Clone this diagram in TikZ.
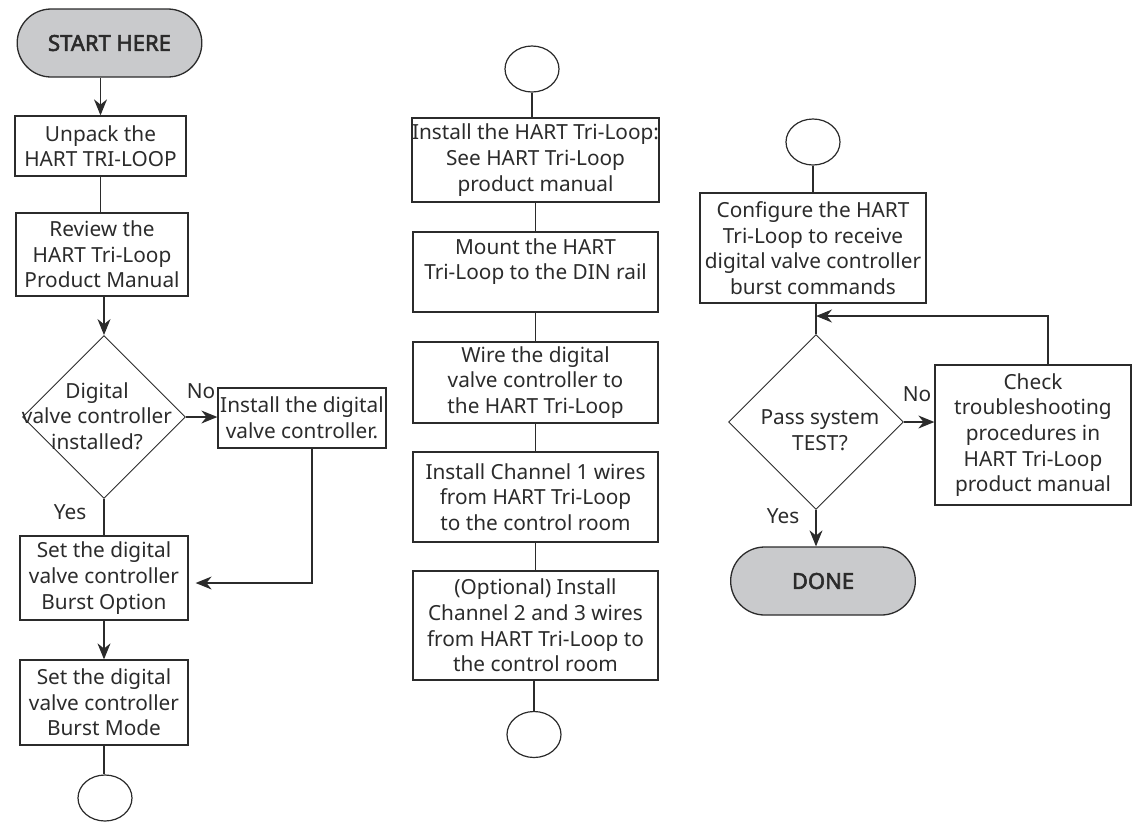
\documentclass[tikz,border=0pt]{standalone}
\usepackage{fontspec}
\setmainfont{Noto Sans}[AutoFakeBold=2.5]
\usepackage{tikz}
\usetikzlibrary{shapes.geometric, shapes.misc, arrows.meta, positioning}
\definecolor{linea}{HTML}{2B2B2B}
\definecolor{grigio}{HTML}{C9CACC}

\begin{document}
\begin{tikzpicture}[x = 0.5pt, y = -0.5pt, color = linea,
    testo/.style = {font = \fontsize{10.4}{12.8}\selectfont},
    blocco/.style 2 args = {draw, rectangle, align = center, inner sep = 0pt, testo, line width = 0.65pt,
        minimum width = #1*0.5pt, minimum height = #2*0.5pt},
    terminale/.style = {draw, rounded rectangle, fill = grigio, line width = 0.65pt,
        font = \fontsize{11}{12}\selectfont\bfseries, minimum width = 99pt, minimum height = 34pt},
    scelta/.style = {draw, diamond, aspect = 1, inner sep = 0pt, line width = 0.45pt,
        minimum width = #1*0.5pt, minimum height = #1*0.5pt},
    conn/.style = {draw, ellipse, inner sep = 0pt, line width = 0.6pt,
        minimum width = 27pt, minimum height = 23pt},
    etich/.style = {testo, align = center, inner sep = 0pt},
    freccia/.style = {-{Stealth[length = 8pt, width = 6.5pt]}},
    line width = 0.6pt]
    % Cornice
    \useasboundingbox (0,0) rectangle (1132,821);

    % Colonna sinistra
    \node[terminale] (start) at (109.5,43) {START HERE\hspace{7pt}};
    \node[blocco = {171}{60}] (unpack) at (100.5,146) {Unpack the\\HART TRI-LOOP};
    \node[blocco = {172}{83}] (review) at (102,254.5) {Review the\\HART Tri-Loop\\Product Manual};
    \node[scelta = 163] (dvc) at (104,417) {};
    \node[etich] (dvcT) at (97,416) {Digital\\valve controller\\installed?};
    \node[blocco = {168}{60}] (install) at (302,418) {Install the digital\\valve controller.};
    \node[blocco = {168}{84}] (bopt) at (104,578) {Set the digital\\valve controller\\Burst Option};
    \node[blocco = {168}{85}] (bmode) at (104,702.5) {Set the digital\\valve controller\\Burst Mode};
    \node[conn] (cA) at (105,798) {};
    \node[etich] (noA) at (201,391) {No};
    \node[etich] (yesA) at (70,512) {Yes};
    \coordinate (ritA) at (312,583);

    \draw[freccia] (unpack.north |- start.south) -- (unpack.north);
    \draw (unpack.south) -- (review.north -| unpack.south);
    \draw[freccia] (review.south -| dvc.north) -- (dvc.north);
    \draw[freccia] (dvc.east) -- (dvc.east -| install.west);
    \draw (dvc.south) -- (bopt.north -| dvc.south);
    \draw[freccia] (install.south -| ritA) -- (ritA) -- ([xshift = 3.5pt]bopt.east |- ritA);
    \draw[freccia] (bopt.south) -- (bmode.north);
    \draw (bmode.south) -- (cA.north -| bmode.south);

    % Colonna centrale
    \node[conn] (cB) at (532,69) {};
    \node[blocco = {245}{84}] (tri) at (535.5,160) {Install the HART Tri-Loop:\\See HART Tri-Loop\\product manual};
    \node[blocco = {245}{80}] (mount) at (535.5,272) {Mount the HART\\Tri-Loop to the DIN rail\\\mbox{}};
    \node[blocco = {245}{81}] (wire) at (535.5,382.5) {Wire the digital\\valve controller to\\the HART Tri-Loop};
    \node[blocco = {245}{90}] (chA) at (535.5,497) {Install Channel 1 wires\\from HART Tri-Loop\\to the control room};
    \node[blocco = {245}{109}] (chB) at (535.5,625.5) {(Optional) Install\\Channel 2 and 3 wires\\from HART Tri-Loop to\\the control room};
    \node[conn] (cC) at (534,734.5) {};

    \draw (cB.south) -- (tri.north -| cB.south);
    \draw (tri.south) -- (mount.north);
    \draw (mount.south) -- (wire.north);
    \draw (wire.south) -- (chA.north);
    \draw (chA.south) -- (chB.north);
    \draw (chB.south -| cC.north) -- (cC.north);

    % Colonna destra
    \node[conn] (cD) at (813,142) {};
    \node[blocco = {226}{110}] (config) at (813,248) {Configure the HART\\Tri-Loop to receive\\digital valve controller\\burst commands};
    \node[scelta = 175] (test) at (816,422) {};
    \node[etich] (testT) at (820,430) {Pass system\\TEST?};
    \node[blocco = {196}{140}] (check) at (1033,435) {Check\\troubleshooting\\procedures in\\HART Tri-Loop\\product manual};
    \node[terminale] (done) at (823,581) {DONE\hspace{10pt}};
    \node[etich] (noB) at (917,394) {No};
    \node[etich] (yesB) at (783,516) {Yes};
    \coordinate (ritB) at (1048,316);

    \draw (cD.south) -- (config.north);
    \draw (config.south -| test.north) -- (test.north);
    \draw[freccia] (test.east) -- (test.east -| check.west);
    \draw[freccia] (check.north -| ritB) -- (ritB) -- (ritB -| test.north);
    \draw[freccia] (test.south) -- (test.south |- done.north);
\end{tikzpicture}
\end{document}
